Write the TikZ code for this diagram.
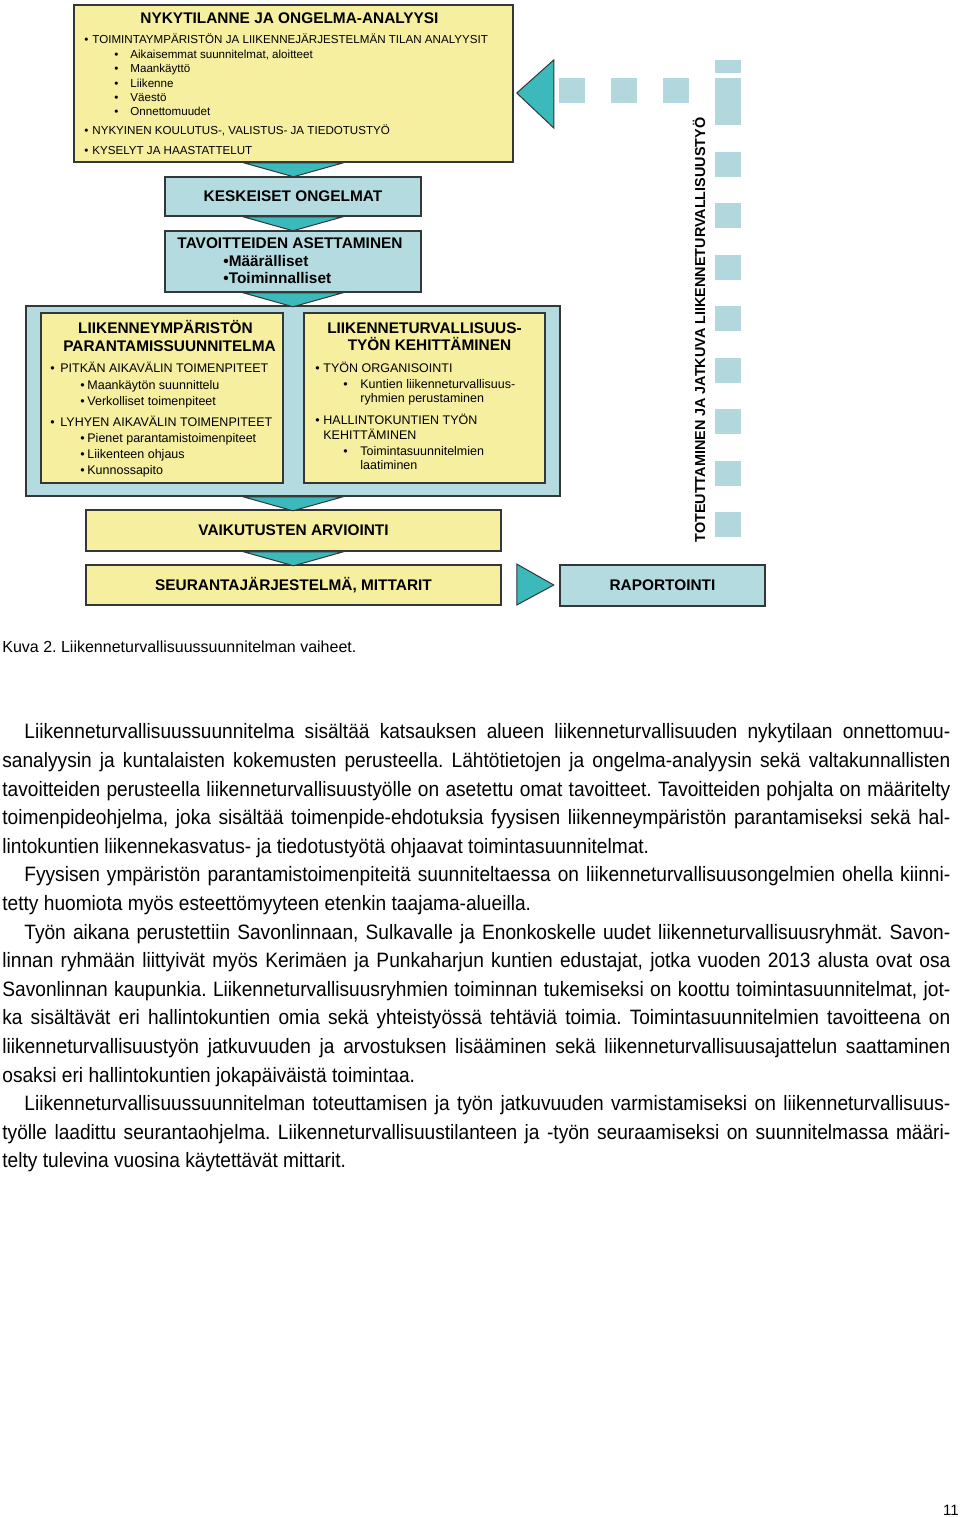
\documentclass[tikz,border=0pt]{standalone}
\usepackage{fontspec}
\setmainfont{Liberation Sans}
\newfontfamily\bodyfont[FakeStretch=0.92]{Liberation Sans}
\usetikzlibrary{calc,positioning}
\frenchspacing
\definecolor{planYellow}{HTML}{F6EFA0}
\definecolor{planBlue}{HTML}{B4DBE0}
\definecolor{planTeal}{HTML}{3BB9BB}
\definecolor{planDot}{HTML}{B2D8DD}
\definecolor{planLine}{HTML}{333737}
\tikzset{
  lts/ybox/.style={draw=planLine, fill=planYellow, line width=0.75pt, inner sep=0pt},
  lts/bbox/.style={draw=planLine, fill=planBlue, line width=0.75pt, inner sep=0pt},
  lts/chev/.style={draw=planLine, fill=planTeal, line width=0.5pt, line join=miter},
  lts/dot/.style={fill=planDot, inner sep=0pt, minimum width=13pt, minimum height=12.5pt},
  lts/hf/.style={font=\fontsize{7.7}{9}\selectfont\bfseries},
  lts/head/.style={lts/hf, inner sep=0pt, anchor=base},
  lts/item/.style={font=\fontsize{6.25}{7}\selectfont, inner sep=0pt, anchor=base west},
  lts/small/.style={font=\fontsize{5.8}{7}\selectfont, inner sep=0pt, anchor=base west},
  lts/body/.style={font=\bodyfont\fontsize{10.4}{14.3}\selectfont, inner sep=0pt, anchor=north west, text width=474pt, align=justify}
}

\begin{document}
\begin{tikzpicture}[x=0.5pt,y=-0.5pt]
  \useasboundingbox (0,0) rectangle (960,1517);

  \node[lts/ybox, minimum width=219.5pt, minimum height=78.5pt] (nyk) at (293.5,83.5) {};
  \node[lts/bbox, lts/hf, minimum width=128pt, minimum height=19.5pt] (kesk) at (293,196.5) {KESKEISET ONGELMAT};
  \node[lts/bbox, minimum width=128pt, minimum height=30.5pt] (tav) at (293,261.5) {};
  \node[lts/bbox, minimum width=267pt, minimum height=95pt] (toimp) at (293,401) {};
  \node[lts/ybox, minimum width=121pt, minimum height=85pt] (lymp) at (162,398) {};
  \node[lts/ybox, minimum width=120.5pt, minimum height=85pt] (ltyo) at (424.5,398) {};
  \node[lts/ybox, lts/hf, minimum width=207.5pt, minimum height=20.5pt] (vaik) at (293.5,530.5) {VAIKUTUSTEN ARVIOINTI};
  \node[lts/ybox, lts/hf, minimum width=207.5pt, minimum height=20pt] (seur) at (293.5,585) {SEURANTAJÄRJESTELMÄ, MITTARIT};
  \node[lts/bbox, lts/hf, minimum width=102.5pt, minimum height=20.5pt] (rap) at (662.5,585.5) {RAPORTOINTI};

  \foreach \up in {nyk,kesk,tav,toimp,vaik}
    \draw[lts/chev] ($(\up.south)+(-50,0)$) -- ($(\up.south)+(50,0)$) -- ($(\up.south)+(0,14)$) -- cycle;
  \draw[lts/chev] ($(seur.east)+(15,-21)$) -- ($(seur.east)+(52,0)$) -- ($(seur.east)+(15,20)$) -- cycle;
  \draw[lts/chev] ($(nyk.east)+(3,9.5)$) -- ($(nyk.east)+(40,-23.5)$) -- ($(nyk.east)+(40,44.5)$) -- cycle;

  \foreach \dx in {572,624,676,727.5}
    \node[lts/dot] at (\dx,90.5) {};
  \foreach \i in {0,...,8}
    \node[lts/dot] at (728,112.5+51.5*\i) {};
  \fill[planDot] (715,60) rectangle (741,73);
  \node[lts/hf, font=\fontsize{7.2}{9}\selectfont\bfseries, rotate=90, inner sep=0pt] (jatk) at (699,330) {TOTEUTTAMINEN JA JATKUVA LIIKENNETURVALLISUUSTYÖ};

  \node[lts/head] at (289.5,23.5) {NYKYTILANNE JA ONGELMA-ANALYYSI};
  \node[lts/small] at (84,43.2) {\makebox[4pt][l]{•}TOIMINTAYMPÄRISTÖN JA LIIKENNEJÄRJESTELMÄN TILAN ANALYYSIT};
  \foreach \yy/\txt in {58.2/{Aikaisemmat suunnitelmat, aloitteet}, 72.2/Maankäyttö, 87.2/Liikenne, 101.2/Väestö, 115.2/Onnettomuudet}
    \node[lts/small] at (114,\yy) {\makebox[8pt][l]{•}\txt};
  \node[lts/small] at (84,134.2) {\makebox[4pt][l]{•}NYKYINEN KOULUTUS-, VALISTUS- JA TIEDOTUSTYÖ};
  \node[lts/small] at (84,154.2) {\makebox[4pt][l]{•}KYSELYT JA HAASTATTELUT};

  \node[lts/head] at (290,248.5) {TAVOITTEIDEN ASETTAMINEN};
  \node[lts/head, anchor=base west] at (223,266.5) {•Määrälliset};
  \node[lts/head, anchor=base west] at (223,283.5) {•Toiminnalliset};

  \node[lts/head] at (165.5,333.5) {LIIKENNEYMPÄRISTÖN};
  \node[lts/head] at (169.5,351.5) {PARANTAMISSUUNNITELMA};
  \node[lts/item] at (50,372.4) {\makebox[5pt][l]{•}PITKÄN AIKAVÄLIN TOIMENPITEET};
  \foreach \yy/\txt in {389.4/Maankäytön suunnittelu, 405.4/Verkolliset toimenpiteet}
    \node[lts/item] at (80,\yy) {\makebox[3.5pt][l]{•}\txt};
  \node[lts/item] at (50,426.4) {\makebox[5pt][l]{•}LYHYEN AIKAVÄLIN TOIMENPITEET};
  \foreach \yy/\txt in {442.4/Pienet parantamistoimenpiteet, 458.4/Liikenteen ohjaus, 474.4/Kunnossapito}
    \node[lts/item] at (80,\yy) {\makebox[3.5pt][l]{•}\txt};

  \node[lts/head] at (424.5,333.5) {LIIKENNETURVALLISUUS-};
  \node[lts/head] at (429.5,350.5) {TYÖN KEHITTÄMINEN};
  \node[lts/item] at (315,372.4) {\makebox[4pt][l]{•}TYÖN ORGANISOINTI};
  \node[lts/item] at (343,388.4) {\makebox[8.5pt][l]{•}Kuntien liikenneturvallisuus-};
  \node[lts/item] at (360,402.4) {ryhmien perustaminen};
  \node[lts/item] at (315,424.4) {\makebox[4pt][l]{•}HALLINTOKUNTIEN TYÖN};
  \node[lts/item] at (323,439.4) {KEHITTÄMINEN};
  \node[lts/item] at (343,455.4) {\makebox[8.5pt][l]{•}Toimintasuunnitelmien};
  \node[lts/item] at (360,469.4) {laatiminen};

  \node[anchor=base west, inner sep=0pt, font=\fontsize{8}{10}\selectfont] (kuva) at (2,652) {Kuva 2. Liikenneturvallisuussuunnitelman vaiheet.};

  \node[lts/body] (teksti) at (2,723.5) {\parindent=0pt\tolerance=9999\hyphenpenalty=10000\exhyphenpenalty=10000
    \hspace*{11pt}Liikenneturvallisuussuunnitelma sisältää katsauksen alueen liikenneturvallisuuden nykytilaan onnettomuu-\linebreak
    sanalyysin ja kuntalaisten kokemusten perusteella. Lähtötietojen ja ongelma-analyysin sekä valtakunnallisten\linebreak
    tavoitteiden perusteella liikenneturvallisuustyölle on asetettu omat tavoitteet. Tavoitteiden pohjalta on määritelty\linebreak
    toimenpideohjelma, joka sisältää toimenpide-ehdotuksia fyysisen liikenneympäristön parantamiseksi sekä hal-\linebreak
    lintokuntien liikennekasvatus- ja tiedotustyötä ohjaavat toimintasuunnitelmat.\par
    \hspace*{11pt}Fyysisen ympäristön parantamistoimenpiteitä suunniteltaessa on liikenneturvallisuusongelmien ohella kiinni-\linebreak
    tetty huomiota myös esteettömyyteen etenkin taajama-alueilla.\par
    \hspace*{11pt}Työn aikana perustettiin Savonlinnaan, Sulkavalle ja Enonkoskelle uudet liikenneturvallisuusryhmät. Savon-\linebreak
    linnan ryhmään liittyivät myös Kerimäen ja Punkaharjun kuntien edustajat, jotka vuoden 2013 alusta ovat osa\linebreak
    Savonlinnan kaupunkia. Liikenneturvallisuusryhmien toiminnan tukemiseksi on koottu toimintasuunnitelmat, jot-\linebreak
    ka sisältävät eri hallintokuntien omia sekä yhteistyössä tehtäviä toimia. Toimintasuunnitelmien tavoitteena on\linebreak
    liikenneturvallisuustyön jatkuvuuden ja arvostuksen lisääminen sekä liikenneturvallisuusajattelun saattaminen\linebreak
    osaksi eri hallintokuntien jokapäiväistä toimintaa.\par
    \hspace*{11pt}Liikenneturvallisuussuunnitelman toteuttamisen ja työn jatkuvuuden varmistamiseksi on liikenneturvallisuus-\linebreak
    työlle laadittu seurantaohjelma. Liikenneturvallisuustilanteen ja -työn seuraamiseksi on suunnitelmassa määri-\linebreak
    telty tulevina vuosina käytettävät mittarit.};

  \node[anchor=base east, inner sep=0pt, font=\fontsize{7.5}{8}\selectfont] (sivu) at (959,1515) {11};
\end{tikzpicture}
\end{document}
